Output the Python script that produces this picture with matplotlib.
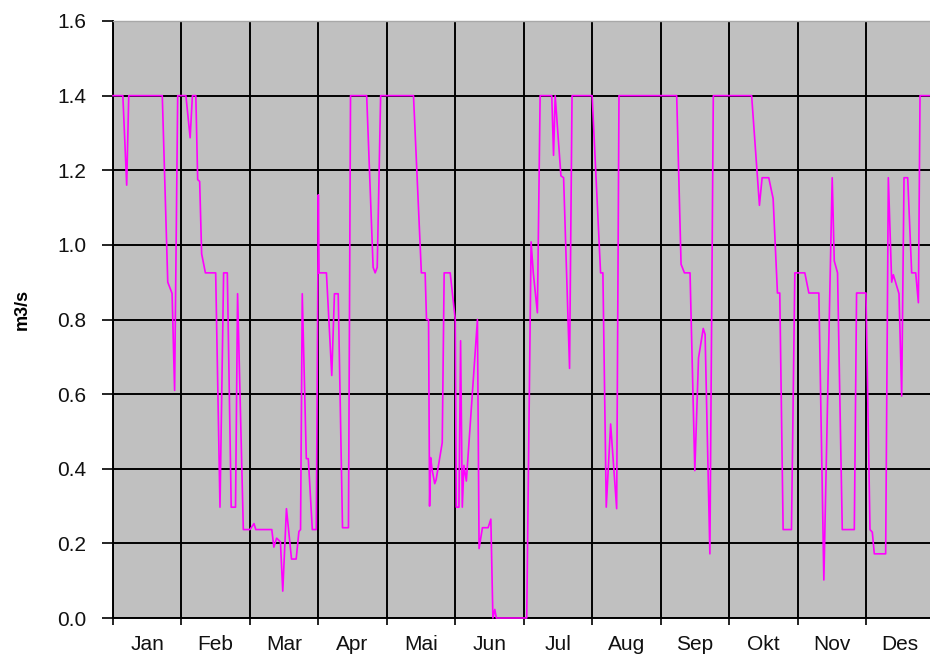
import matplotlib
matplotlib.use("Agg")
import matplotlib.pyplot as plt
from matplotlib.ticker import FixedLocator, NullFormatter

# flow record, x in months from 1 Jan (0..12), y in m3/s
t = [0.0, 0.144, 0.20, 0.23, 0.72, 0.80, 0.863, 0.90, 0.945,
     1.065, 1.127, 1.16, 1.21, 1.237, 1.266, 1.295, 1.35, 1.50, 1.563, 1.616,
     1.67, 1.727, 1.79, 1.82, 1.904,
     2.0, 2.06, 2.086, 2.32, 2.35, 2.39, 2.446, 2.48, 2.534, 2.608, 2.676,
     2.716, 2.74, 2.765, 2.824, 2.853, 2.912, 2.97,
     3.0, 3.01, 3.118, 3.196, 3.235, 3.29, 3.353, 3.44, 3.47, 3.706, 3.745,
     3.80, 3.83, 3.86, 3.91,
     4.39, 4.505, 4.56, 4.58, 4.61, 4.625, 4.64, 4.66, 4.70, 4.72, 4.81,
     4.838, 4.926,
     5.0, 5.015, 5.054, 5.078, 5.103, 5.127, 5.162, 5.324, 5.348, 5.397,
     5.48, 5.52, 5.55, 5.578, 5.60,
     6.044, 6.108, 6.14, 6.2, 6.24, 6.41, 6.436, 6.46, 6.544, 6.583, 6.67,
     6.706,
     7.0, 7.123, 7.157, 7.206, 7.27, 7.358, 7.392,
     8.235, 8.299, 8.348, 8.43, 8.5, 8.554, 8.623, 8.65, 8.72, 8.77,
     9.33, 9.444, 9.483, 9.58, 9.644, 9.707, 9.741, 9.79, 9.912, 9.961,
     10.107, 10.166, 10.312, 10.385, 10.507, 10.537, 10.585, 10.654, 10.83,
     10.863,
     11.0, 11.059, 11.093, 11.122, 11.288, 11.327, 11.376, 11.4, 11.483,
     11.522, 11.556, 11.61, 11.668, 11.727, 11.766, 11.79, 12.0]

flow = [1.4, 1.4, 1.16, 1.4, 1.4, 0.90, 0.87, 0.61, 1.4,
        1.4, 1.287, 1.4, 1.4, 1.175, 1.17, 0.976, 0.925, 0.925, 0.297, 0.925,
        0.925, 0.297, 0.297, 0.869, 0.237,
        0.237, 0.253, 0.237, 0.237, 0.19, 0.214, 0.204, 0.072, 0.293, 0.158, 0.158,
        0.232, 0.237, 0.869, 0.427, 0.427, 0.237, 0.237,
        1.134, 0.925, 0.925, 0.65, 0.869, 0.869, 0.242, 0.242, 1.4, 1.4, 1.208,
        0.94, 0.925, 0.94, 1.4,
        1.4, 0.925, 0.925, 0.80, 0.80, 0.30, 0.43, 0.40, 0.36, 0.37, 0.47,
        0.925, 0.925,
        0.80, 0.297, 0.297, 0.743, 0.297, 0.409, 0.367, 0.80, 0.186, 0.242,
        0.242, 0.265, 0.0, 0.023, 0.0,
        0.0, 1.008, 0.925, 0.818, 1.4, 1.4, 1.24, 1.4, 1.185, 1.18, 0.669,
        1.4,
        1.4, 0.925, 0.925, 0.297, 0.52, 0.293, 1.4,
        1.4, 0.948, 0.925, 0.925, 0.395, 0.697, 0.776, 0.76, 0.172, 1.4,
        1.4, 1.106, 1.18, 1.18, 1.124, 0.871, 0.871, 0.237, 0.237, 0.925,
        0.925, 0.871, 0.871, 0.102, 1.18, 0.957, 0.925, 0.237, 0.237,
        0.871,
        0.871, 0.237, 0.23, 0.172, 0.172, 1.18, 0.90, 0.92, 0.869,
        0.595, 1.18, 1.18, 0.925, 0.925, 0.845, 1.4, 1.4]

months = ['Jan', 'Feb', 'Mar', 'Apr', 'Mai', 'Jun',
          'Jul', 'Aug', 'Sep', 'Okt', 'Nov', 'Des']
yticks = [0.0, 0.2, 0.4, 0.6, 0.8, 1.0, 1.2, 1.4, 1.6]

plt.rcParams['font.family'] = ['Liberation Sans', 'DejaVu Sans']

fig = plt.figure(figsize=(9.3, 6.6), dpi=100)
# plot area runs a bit past the right edge of the picture (cropped like the original)
ax = fig.add_axes([113 / 930, 42 / 660, 821.4 / 930, 597 / 660])
ax.set_facecolor('#c0c0c0')

ax.plot(t, flow, color='#ff00ff', lw=1.2, zorder=3, clip_on=False)

ax.set_xlim(0, 12)
ax.set_ylim(0, 1.6)

ax.set_yticks(yticks)
ax.set_yticklabels(['%.1f' % v for v in yticks])
ax.xaxis.set_major_locator(FixedLocator(range(13)))
ax.xaxis.set_major_formatter(NullFormatter())
ax.xaxis.set_minor_locator(FixedLocator([i + 0.5 for i in range(12)]))
ax.set_xticklabels(months, minor=True)

ax.grid(True, which='major', color='black', lw=1.4, zorder=1)
ax.set_axisbelow(True)

ax.tick_params(axis='y', which='major', length=8, width=1.2, pad=11,
               labelsize=15, colors='black', labelcolor='#111111')
ax.tick_params(axis='x', which='major', length=5, width=1.2)
ax.tick_params(axis='x', which='minor', length=0, pad=12, labelsize=15,
               labelcolor='#111111')

for s in ['left', 'bottom']:
    ax.spines[s].set_color('black')
    ax.spines[s].set_linewidth(1.4)
ax.spines['top'].set_color('#a8a8a8')
ax.spines['top'].set_linewidth(1.0)
ax.spines['right'].set_visible(False)

fig.text(22 / 930, (660 - 309) / 660, 'm3/s', rotation=90, fontsize=13,
         fontweight='bold', ha='center', va='center')

fig.savefig('out.png', dpi=100)
